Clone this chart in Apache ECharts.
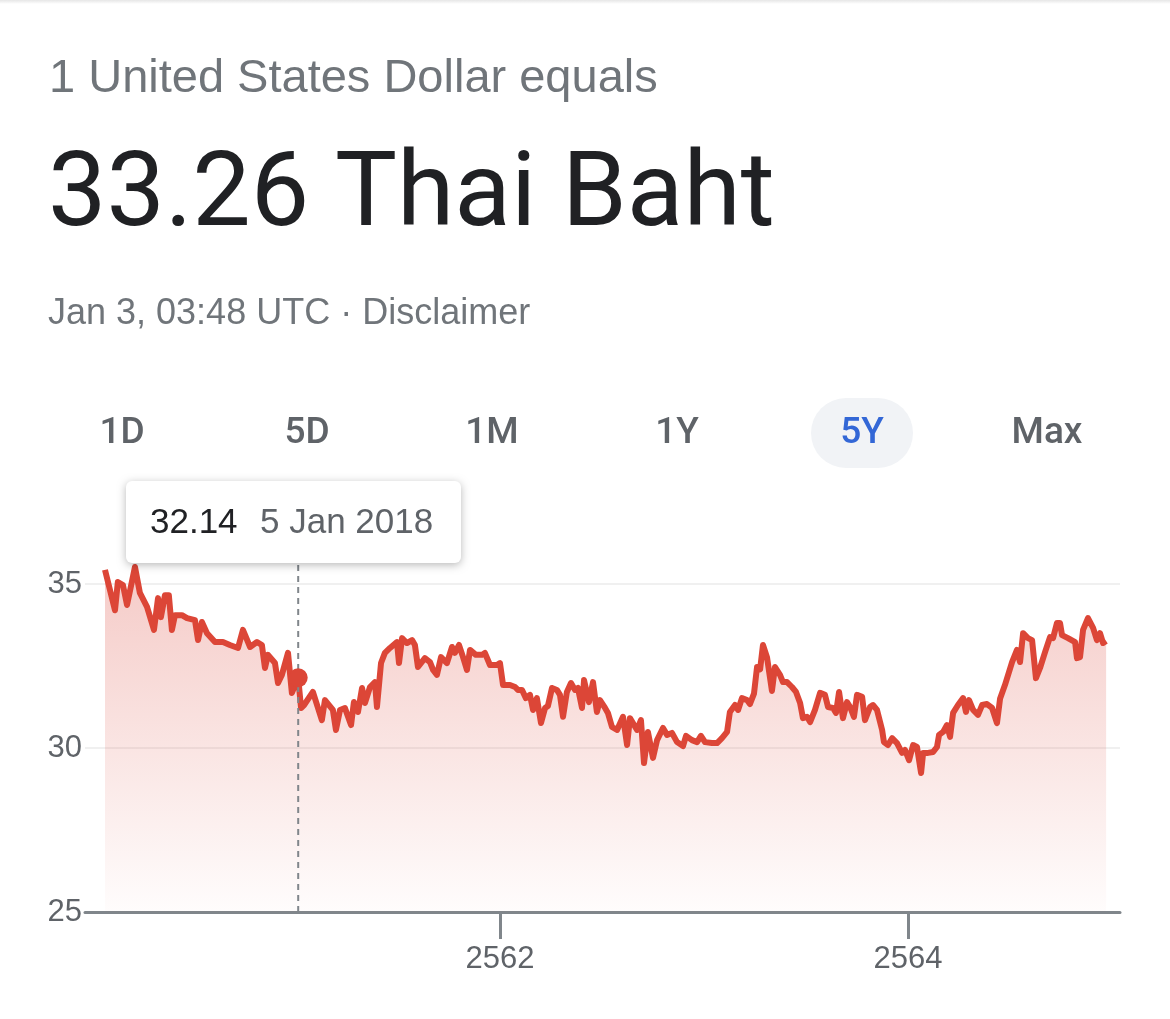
<!DOCTYPE html>
<html>
<head>
<meta charset="utf-8">
<script src="https://cdn.jsdelivr.net/npm/echarts@6/dist/echarts.min.js"></script>
<style>
  html, body { margin: 0; padding: 0; background: #ffffff; }
  #chart { width: 1170px; height: 1019px; }
</style>
</head>
<body>
<div id="chart"></div>
<script>
// ---- Data (x = Buddhist-era decimal years, y = THB per USD) ----
const dates = [
  2560.064, 2560.113, 2560.127, 2560.152, 2560.172, 2560.211, 2560.235, 2560.270, 2560.304, 2560.324,
  2560.338, 2560.358, 2560.377, 2560.392, 2560.407, 2560.441, 2560.466, 2560.505, 2560.520, 2560.539,
  2560.564, 2560.603, 2560.642, 2560.676, 2560.716, 2560.740, 2560.775, 2560.809, 2560.833, 2560.848,
  2560.863, 2560.897, 2560.912, 2560.931, 2560.961, 2560.980, 2561.011, 2561.025, 2561.040, 2561.083,
  2561.127, 2561.142, 2561.181, 2561.196, 2561.216, 2561.240, 2561.270, 2561.284, 2561.304, 2561.324,
  2561.338, 2561.363, 2561.387, 2561.397, 2561.417, 2561.436, 2561.461, 2561.495, 2561.505, 2561.520,
  2561.544, 2561.569, 2561.583, 2561.598, 2561.632, 2561.657, 2561.672, 2561.691, 2561.711, 2561.740,
  2561.765, 2561.779, 2561.799, 2561.819, 2561.838, 2561.853, 2561.882, 2561.912, 2561.926, 2561.951,
  2561.985, 2562.000, 2562.015, 2562.049, 2562.074, 2562.088, 2562.108, 2562.127, 2562.147, 2562.162,
  2562.181, 2562.201, 2562.221, 2562.235, 2562.255, 2562.279, 2562.294, 2562.309, 2562.328, 2562.348,
  2562.368, 2562.382, 2562.402, 2562.412, 2562.436, 2562.456, 2562.475, 2562.490, 2562.515, 2562.529,
  2562.549, 2562.574, 2562.603, 2562.623, 2562.637, 2562.672, 2562.691, 2562.706, 2562.725, 2562.750,
  2562.770, 2562.799, 2562.819, 2562.843, 2562.868, 2562.897, 2562.912, 2562.941, 2562.966, 2562.985,
  2563.005, 2563.039, 2563.064, 2563.088, 2563.113, 2563.127, 2563.152, 2563.167, 2563.186, 2563.211,
  2563.225, 2563.245, 2563.260, 2563.275, 2563.289, 2563.309, 2563.333, 2563.348, 2563.373, 2563.387,
  2563.407, 2563.431, 2563.451, 2563.471, 2563.485, 2563.505, 2563.520, 2563.544, 2563.569, 2563.593,
  2563.608, 2563.632, 2563.647, 2563.662, 2563.681, 2563.701, 2563.716, 2563.735, 2563.750, 2563.775,
  2563.789, 2563.814, 2563.828, 2563.848, 2563.873, 2563.882, 2563.902, 2563.922, 2563.946, 2563.971,
  2563.985, 2564.005, 2564.025, 2564.044, 2564.064, 2564.074, 2564.098, 2564.123, 2564.142, 2564.152,
  2564.172, 2564.191, 2564.206, 2564.221, 2564.245, 2564.270, 2564.284, 2564.299, 2564.319, 2564.343,
  2564.363, 2564.387, 2564.412, 2564.436, 2564.451, 2564.475, 2564.510, 2564.534, 2564.549, 2564.564,
  2564.588, 2564.608, 2564.627, 2564.647, 2564.672, 2564.696, 2564.711, 2564.730, 2564.745, 2564.755,
  2564.784, 2564.819, 2564.828, 2564.843, 2564.858, 2564.882, 2564.907, 2564.926, 2564.941, 2564.956,
  2564.971
];
const rates = [
  35.43, 34.20, 35.06, 34.97, 34.36, 35.52, 34.73, 34.30, 33.60, 34.57,
  33.99, 34.66, 34.66, 33.60, 34.05, 34.05, 33.96, 33.90, 33.29, 33.84,
  33.50, 33.23, 33.23, 33.14, 33.05, 33.60, 33.08, 33.23, 33.14, 32.44,
  32.84, 32.59, 31.98, 32.23, 32.90, 31.68, 32.14, 31.22, 31.31, 31.71,
  30.85, 31.46, 31.16, 30.55, 31.16, 31.22, 30.70, 31.40, 31.10, 31.83,
  31.37, 31.86, 32.01, 31.25, 32.59, 32.90, 33.05, 33.23, 32.59, 33.35,
  33.20, 33.29, 33.14, 32.47, 32.74, 32.62, 32.38, 32.23, 32.77, 32.59,
  33.08, 32.90, 33.14, 32.77, 32.38, 32.99, 32.84, 32.84, 32.90, 32.53,
  32.53, 32.59, 31.92, 31.92, 31.86, 31.77, 31.77, 31.52, 31.62, 31.16,
  31.52, 30.76, 31.22, 31.28, 31.83, 31.77, 31.62, 30.95, 31.71, 31.98,
  31.77, 31.83, 31.22, 32.07, 31.40, 32.01, 31.10, 31.46, 31.22, 31.07,
  30.64, 30.55, 30.95, 30.09, 30.91, 30.55, 30.85, 29.54, 30.49, 29.70,
  30.24, 30.61, 30.40, 30.46, 30.18, 30.06, 30.37, 30.24, 30.18, 30.37,
  30.18, 30.15, 30.15, 30.30, 30.49, 31.10, 31.31, 31.16, 31.52, 31.46,
  31.34, 31.66, 32.47, 32.40, 33.14, 32.76, 31.74, 32.47, 32.22, 32.01,
  32.01, 31.86, 31.71, 31.37, 30.91, 30.95, 30.79, 31.16, 31.68, 31.62,
  31.25, 31.22, 31.07, 31.71, 30.91, 31.40, 31.25, 30.95, 31.62, 31.56,
  30.85, 31.25, 31.31, 31.16, 30.55, 30.18, 30.09, 30.30, 30.15, 29.85,
  29.94, 29.63, 30.09, 30.03, 29.24, 29.85, 29.85, 29.88, 30.03, 30.40,
  30.49, 30.70, 30.34, 31.07, 31.31, 31.52, 31.10, 31.46, 31.16, 31.01,
  31.31, 31.34, 31.22, 30.76, 31.50, 31.92, 32.62, 32.99, 32.62, 33.50,
  33.35, 33.29, 32.13, 32.44, 32.93, 33.38, 33.35, 33.81, 33.81, 33.44,
  33.35, 33.23, 32.74, 32.77, 33.60, 33.96, 33.66, 33.29, 33.50, 33.20,
  33.26
];
const xTickValues = [2562, 2564];
const ranges = ['1D', '5D', '1M', '1Y', '5Y', 'Max'];
const selectedRange = '5Y';
const hoverDate = 2561.011;
const hoverRate = 32.14;
const hoverLabel = '5 Jan 2018';
const crosshairTop = 35.58;
const headline1 = '1 United States Dollar equals';
const headline2 = '33.26 Thai Baht';
const timestamp = 'Jan 3, 03:48 UTC \u00B7 Disclaimer';

// ---- Styling ----
const RED = '#dc4637';
const GRAY_TEXT = '#70757a';
const LABEL = '#5f6368';
const FONT = 'Roboto, "Noto Sans", Arial, sans-serif';
const HELV = '"Liberation Sans", Arial, Helvetica, sans-serif';

const chart = echarts.init(document.getElementById('chart'), null, { renderer: 'canvas' });

const graphics = [
  { type: 'rect', shape: { x: 0, y: 0, width: 1170, height: 4 },
    style: { fill: new echarts.graphic.LinearGradient(0, 0, 0, 1, [
      { offset: 0, color: '#e6e6e6' }, { offset: 1, color: '#ffffff' }]) } },
  { type: 'text', x: 49, y: 79, style: { text: headline1, fill: GRAY_TEXT,
    font: '47px ' + HELV, textVerticalAlign: 'middle' } },
  { type: 'text', x: 48, y: 199, style: { text: headline2, fill: '#202124',
    font: '104px ' + FONT, textVerticalAlign: 'middle' } },
  { type: 'text', x: 48, y: 314, style: { text: timestamp, fill: GRAY_TEXT,
    font: '36px ' + HELV, textVerticalAlign: 'middle' } }
];

ranges.forEach((r, i) => {
  const cx = 122 + i * 185;
  const sel = r === selectedRange;
  if (sel) {
    graphics.push({ type: 'rect', shape: { x: cx - 51, y: 398, width: 102, height: 70, r: 35 },
      style: { fill: '#f1f3f6' } });
  }
  graphics.push({ type: 'text', x: cx, y: 434, style: { text: r,
    fill: sel ? '#3367d6' : LABEL, font: '500 37px ' + FONT,
    textAlign: 'center', textVerticalAlign: 'middle' } });
});

// tooltip box
graphics.push({ type: 'rect', shape: { x: 126, y: 481, width: 335, height: 82, r: 6 },
  style: { fill: '#ffffff', shadowBlur: 8, shadowOffsetY: 2, shadowColor: 'rgba(0,0,0,0.28)' }, z: 100 });
graphics.push({ type: 'text', x: 150, y: 523, z: 101, style: { text: hoverRate.toFixed(2),
  fill: '#202124', font: '35px ' + HELV, textVerticalAlign: 'middle' } });
graphics.push({ type: 'text', x: 260, y: 523, z: 101, style: { text: hoverLabel,
  fill: LABEL, font: '35px ' + HELV, textVerticalAlign: 'middle' } });

const option = {
  backgroundColor: '#ffffff',
  animation: false,
  textStyle: { fontFamily: HELV },
  grid: { left: 85, right: 50, top: 584, bottom: 107, containLabel: false },
  xAxis: {
    type: 'value',
    min: 2559.966,
    max: 2565.039,
    axisLine: { show: true, lineStyle: { color: '#80868b', width: 3 } },
    axisTick: { show: true, customValues: xTickValues, length: 27,
      lineStyle: { color: '#80868b', width: 3 } },
    axisLabel: { show: true, customValues: xTickValues, color: LABEL, fontSize: 31,
      fontFamily: HELV, margin: 32, formatter: v => String(Math.round(v)) },
    splitLine: { show: false }
  },
  yAxis: {
    type: 'value',
    min: 25,
    max: 35,
    interval: 5,
    axisLine: { show: false },
    axisTick: { show: false },
    axisLabel: { color: LABEL, fontSize: 31, fontFamily: HELV, margin: 3 },
    splitLine: { show: true, lineStyle: { color: '#f0f0f0', width: 2 } }
  },
  graphic: graphics,
  series: [
    {
      type: 'line',
      data: dates.map((d, i) => [d, rates[i]]),
      showSymbol: false,
      clip: false,
      lineStyle: { color: RED, width: 6, join: 'round' },
      areaStyle: {
        origin: 'start',
        color: new echarts.graphic.LinearGradient(0, 0, 0, 1, [
          { offset: 0, color: 'rgba(219,68,55,0.40)' },
          { offset: 1, color: 'rgba(219,68,55,0.02)' }
        ])
      },
      z: 3
    },
    {
      type: 'line',
      data: [[hoverDate, 25], [hoverDate, crosshairTop]],
      showSymbol: false,
      clip: false,
      silent: true,
      lineStyle: { color: '#80868b', width: 2, type: [6, 5] },
      z: 4
    },
    {
      type: 'scatter',
      data: [[hoverDate, hoverRate]],
      symbolSize: 19,
      itemStyle: { color: RED, opacity: 1 },
      clip: false,
      z: 5
    }
  ]
};
chart.setOption(option);
</script>
</body>
</html>
